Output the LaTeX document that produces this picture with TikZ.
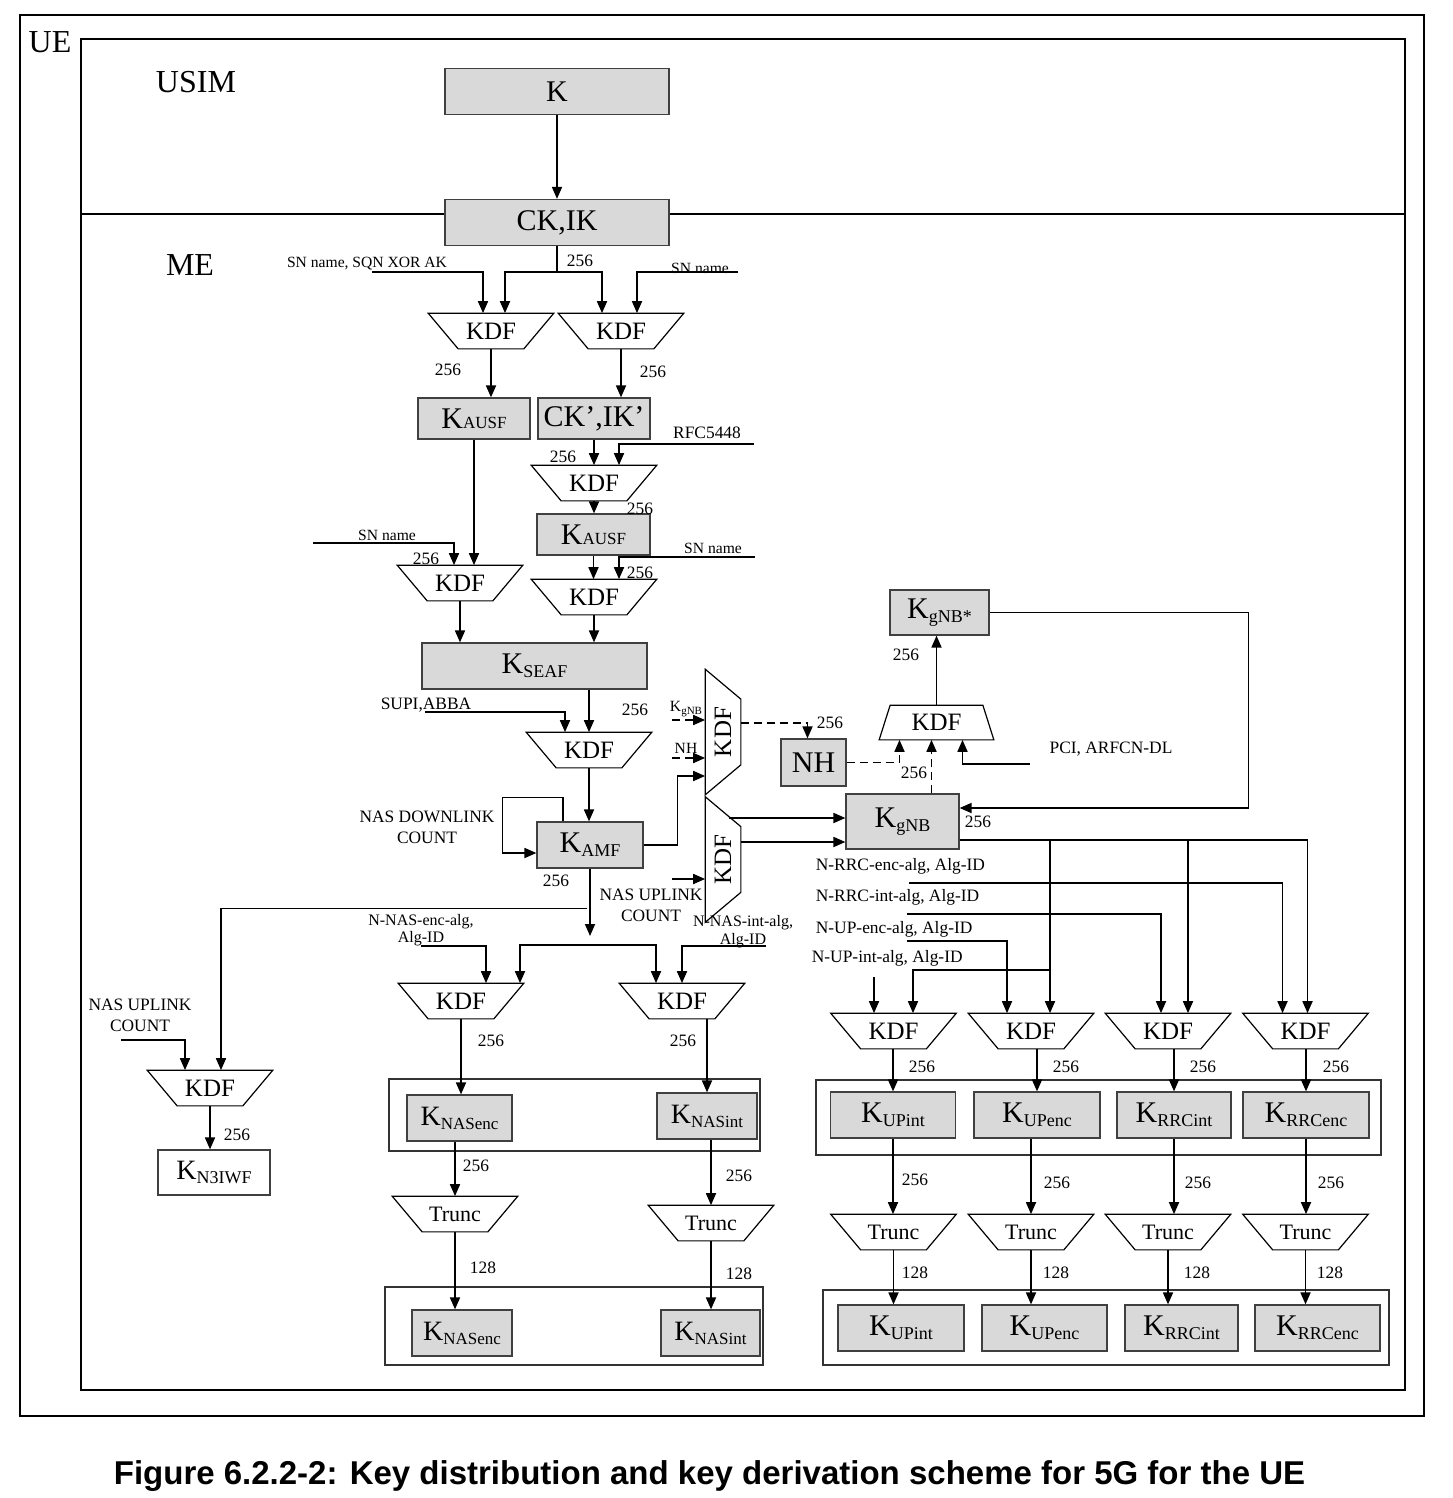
\documentclass[tikz,border=0pt]{standalone}
\usepackage{fontspec}
\setmainfont{Liberation Serif}
\newfontfamily\capfont{Liberation Sans}
\usetikzlibrary{arrows.meta,calc}
\definecolor{keygray}{HTML}{D9D9D9}
\newcommand{\keyname}[2][9]{K\raisebox{-2pt}{\fontsize{#1}{#1}\selectfont #2}}
\newcommand{\ausf}{K{\fontsize{8.5}{9}\selectfont AUSF}}

\begin{document}
\begin{tikzpicture}[x=0.5pt,y=-0.5pt,line width=0.85pt,
  arr/.style={-{Triangle[length=6pt,width=5pt]}},
  dsh/.style={dash pattern=on 4pt off 2.5pt},
  keybox/.style={draw=black!75,fill=keygray,inner sep=0pt,minimum height=23pt,line width=0.6pt,font=\fontsize{15}{17}\selectfont},
  wbox/.style={keybox,fill=white},
  kdf/.style={inner sep=0pt,minimum width=62pt,minimum height=17pt,font=\fontsize{12.5}{14}\selectfont,
    append after command={\pgfextra{\draw[line width=0.6pt] (\tikzlastnode.north west) -- (\tikzlastnode.north east) -- ([xshift=-15pt]\tikzlastnode.south east) -- ([xshift=15pt]\tikzlastnode.south west) -- cycle;}}},
  trunc/.style={kdf,font=\fontsize{11}{12}\selectfont},
  vkdf/.style={inner sep=0pt,minimum width=17pt,minimum height=62pt,font=\fontsize{12.5}{14}\selectfont,
    append after command={\pgfextra{\draw[line width=0.6pt] (\tikzlastnode.north west) -- ([yshift=-15pt]\tikzlastnode.north east) -- ([yshift=15pt]\tikzlastnode.south east) -- (\tikzlastnode.south west) -- cycle;}}},
  ukdf/.style={inner sep=0pt,minimum width=56.5pt,minimum height=16.5pt,font=\fontsize{12.5}{14}\selectfont,
    append after command={\pgfextra{\draw[line width=0.6pt] ([xshift=5.5pt]\tikzlastnode.north west) -- ([xshift=-5.5pt]\tikzlastnode.north east) -- (\tikzlastnode.south east) -- (\tikzlastnode.south west) -- cycle;}}},
  lbl/.style={inner sep=0pt,font=\fontsize{8.7}{10.5}\selectfont},
  sml/.style={inner sep=0pt,font=\fontsize{7.8}{9}\selectfont},
  big/.style={inner sep=0pt,font=\fontsize{16}{18}\selectfont},
  grp/.style={line width=0.55pt,draw=black!80}]
\useasboundingbox (0,0) rectangle (1452,1498);

\draw[line width=1pt] (20,15) rectangle (1424,1416);
\draw[line width=1.4pt] (81,39) rectangle (1405,1390);
\draw (81,214) -- (1405,214);
\node[big] (ue) at (50,42) {UE};
\node[big] (usim) at (196,82) {USIM};
\node[big] (me) at (190,265) {ME};

\node[keybox,minimum width=112pt] (k) at (557,91.5) {K};
\node[keybox,minimum width=112pt] (ckik) at (557,222.5) {CK,IK};
\node[kdf] (kdfA) at (491,331) {KDF};
\node[kdf] (kdfB) at (621,331) {KDF};
\node[keybox,minimum width=56pt,minimum height=20.5pt] (kausfA) at (474,418.5) {\ausf};
\node[keybox,minimum width=56pt,minimum height=20.5pt] (ckikp) at (594,418.5) {CK',IK'};
\node[kdf] (kdfC) at (594,483) {KDF};
\node[keybox,minimum width=56.5pt,minimum height=20.5pt] (kausfB) at (593.5,534.5) {\ausf};
\node[kdf] (kdfD) at (594,597) {KDF};
\node[kdf] (kdfE) at (460,583) {KDF};
\node[keybox,minimum width=112.5pt] (kseaf) at (534.5,666) {\keyname{SEAF}};
\node[kdf] (kdfF) at (589,750) {KDF};
\node[keybox,minimum width=53pt] (kamf) at (590,845) {\keyname{AMF}};
\node[vkdf] (vkdfA) at (723,732) {\rotatebox{90}{KDF}};
\node[vkdf] (vkdfB) at (723,859.5) {\rotatebox{90}{KDF}};
\node[keybox,minimum width=32.5pt,minimum height=23.5pt] (nh) at (813.5,762.5) {NH};
\node[keybox,minimum width=56.5pt,minimum height=27.5pt] (kgnb) at (902.5,821.5) {\keyname{gNB}};
\node[keybox,minimum width=49.5pt,minimum height=22.5pt] (kgnbs) at (939.5,612.5) {\keyname{gNB*}};
\node[ukdf] (ukdf) at (936.5,722.5) {KDF};

\draw[arr] (k) -- (ckik);
\coordinate (ckikS) at (557,272);
\draw (ckik.south) -- (ckikS);
\draw[arr] (ckikS) -| ($(kdfA.north)+(14,0)$);
\draw[arr] (ckikS) -| ($(kdfB.north)+(-19,0)$);
\node[lbl] (n256a) at (580,261) {256};
\node[sml] (snsqn) at (367,264) {SN name, SQN XOR AK};
\coordinate (snsqnE) at (372,272);
\draw[arr] (snsqnE) -| ($(kdfA.north)+(-8,0)$);
\node[sml] (snB) at (700,268) {SN name};
\coordinate (snBE) at (738,272);
\draw[arr] (snBE) -| ($(kdfB.north)+(16,0)$);
\draw[arr] (kdfA.south) -- (kdfA.south |- kausfA.north);
\node[lbl] (n256b) at (448,370) {256};
\draw[arr] (kdfB.south) -- (kdfB.south |- ckikp.north);
\node[lbl] (n256c) at (653,372) {256};
\node[lbl] (rfc) at (707,433) {RFC5448};
\coordinate (rfcE) at (754,444);
\draw[arr] (rfcE) -| ($(kdfC.north)+(25,0)$);
\draw[arr] (ckikp) -- (kdfC);
\node[lbl] (n256d) at (563,457) {256};
\draw[arr] (kdfC.south) -- (kdfC.south |- kausfB.north);
\node[lbl] (n256e) at (640,509) {256};
\node[sml] (snC) at (713,548) {SN name};
\coordinate (snCE) at (755,557);
\draw[arr] (snCE) -| ($(kdfD.north)+(25,0)$);
\draw[arr] (kausfB.south) -- (kausfB.south |- kdfD.north);
\node[lbl] (n256f) at (640,573) {256};
\draw[arr] (kausfA.south) -- (kausfA.south |- kdfE.north);
\node[sml] (snD) at (387,535) {SN name};
\coordinate (snDE) at (313,543);
\draw[arr] (snDE) -| ($(kdfE.north)+(-6,0)$);
\node[lbl] (n256g) at (426,559) {256};
\draw[arr] (kdfE.south) -- (kdfE.south |- kseaf.north);
\draw[arr] (kdfD.south) -- (kdfD.south |- kseaf.north);
\node[lbl] (supi) at (426,705) {SUPI,ABBA};
\coordinate (supiE) at (425,712);
\draw[arr] (supiE) -| ($(kdfF.north)+(-24,0)$);
\draw[arr] (kseaf.south -| kdfF.north) -- (kdfF.north);
\node[lbl] (n256h) at (635,710) {256};
\draw[arr] (kdfF.south) -- (kdfF.south |- kamf.north);
\draw[arr] ($(kamf.north)+(-27,0)$) -- ++(0,-24) -| ($(kamf.west)+(-34,8)$) -- ($(kamf.west)+(0,8)$);
\node[lbl,align=center] (nasdl) at (427,827) {NAS DOWNLINK\\COUNT};
\draw[arr] (kamf.east) -- ++(34,0) |- ($(vkdfA.west)+(0,44)$);
\node[sml] (kgnbin) at (686,709) {K\raisebox{-1.5pt}{\fontsize{5.5}{6}\selectfont gNB}};
\coordinate (kgnbinE) at (672,720);
\draw[arr,dsh] (kgnbinE) -- ($(vkdfA.west)+(0,-12)$);
\node[sml] (nhin) at (686,748) {NH};
\coordinate (nhinE) at (672,758);
\draw[arr,dsh] (nhinE) -- ($(vkdfA.west)+(0,26)$);
\draw[arr,dsh] ($(vkdfA.east)+(0,-9)$) -| ($(nh.north)+(-6,0)$);
\node[lbl] (n256i) at (830,723) {256};
\coordinate (nasulE) at (672,879);
\draw[arr] (nasulE) -- ($(vkdfB.west)+(0,19.5)$);
\node[lbl,align=center] (nasul) at (651,905.5) {NAS UPLINK\\COUNT};
\draw[arr] ($(vkdfB.east)+(-12,-41.5)$) -- ($(kgnb.west)+(0,-3.5)$);
\draw[arr] ($(vkdfB.east)+(0,-17.5)$) -- ($(kgnb.west)+(0,20.5)$);
\draw[arr,dsh] (nh.east) -| ($(ukdf.south)+(-37,0)$);
\draw[arr,dsh] ($(kgnb.north)+(29,0)$) -- ($(ukdf.south)+(-5,0)$);
\node[lbl] (n256j) at (914,773) {256};
\coordinate (pciE) at (1030,764);
\draw[arr] (pciE) -| ($(ukdf.south)+(26,0)$);
\node[lbl] (pci) at (1111,749) {PCI, ARFCN-DL};
\draw[arr] (ukdf.north) -- (ukdf.north |- kgnbs.south);
\node[lbl] (n256k) at (906,655) {256};
\draw[arr] (kgnbs.east) -| ($(kgnb.east)+(289,-13.5)$) -- ($(kgnb.east)+(0,-13.5)$);
\node[lbl] (n256l) at (978,822) {256};

\node[kdf] (kdfUPi) at (893.5,1031) {KDF};
\node[kdf] (kdfUPe) at (1031,1031) {KDF};
\node[kdf] (kdfRRCi) at (1168,1031) {KDF};
\node[kdf] (kdfRRCe) at (1305.5,1031) {KDF};
\draw[grp] (816,1080) rectangle (1381,1155);
\node[keybox,minimum width=62.5pt] (upintA) at (893,1115) {\keyname{UPint}};
\node[keybox,minimum width=63pt] (upencA) at (1037,1115) {\keyname{UPenc}};
\node[keybox,minimum width=57pt] (rrcintA) at (1174,1115) {\keyname{RRCint}};
\node[keybox,minimum width=63pt] (rrcencA) at (1306,1115) {\keyname{RRCenc}};
\node[trunc] (trUPi) at (893.5,1232) {Trunc};
\node[trunc] (trUPe) at (1031,1232) {Trunc};
\node[trunc] (trRRCi) at (1168,1232) {Trunc};
\node[trunc] (trRRCe) at (1305.5,1232) {Trunc};
\draw[grp] (823,1290) rectangle (1389,1365);
\node[keybox,minimum width=63pt] (upintB) at (901,1328) {\keyname{UPint}};
\node[keybox,minimum width=62.5pt] (upencB) at (1044.5,1328) {\keyname{UPenc}};
\node[keybox,minimum width=56.5pt] (rrcintB) at (1181.5,1328) {\keyname{RRCint}};
\node[keybox,minimum width=62.5pt] (rrcencB) at (1317.5,1328) {\keyname{RRCenc}};

\coordinate (kgnbO) at ($(kgnb.east)+(0,18.5)$);
\draw[arr] (kgnbO) -| ($(kdfRRCe.north)+(2,0)$);
\draw[arr] (kgnbO) -| ($(kdfRRCi.north)+(20,0)$);
\draw[arr] (kgnbO) -| ($(kdfUPe.north)+(19,0)$);
\draw[arr] ($(kdfUPe.north)+(19,-43)$) -| ($(kdfUPi.north)+(19.5,0)$);
\node[lbl,anchor=west] (rrcenc) at (815,866) {N-RRC-enc-alg, Alg-ID};
\coordinate (rrcencE) at (909,883);
\draw[arr] (rrcencE) -| ($(kdfRRCe.north)+(-23,0)$);
\node[lbl,anchor=west] (rrcint) at (815,897) {N-RRC-int-alg, Alg-ID};
\coordinate (rrcintE) at (907,914);
\draw[arr] (rrcintE) -| ($(kdfRRCi.north)+(-7,0)$);
\node[lbl,anchor=west] (upenc) at (815,929) {N-UP-enc-alg, Alg-ID};
\coordinate (upencE) at (907,941);
\draw[arr] (upencE) -| ($(kdfUPe.north)+(-24,0)$);
\node[lbl,anchor=west] (upint) at (811,958) {N-UP-int-alg, Alg-ID};
\coordinate (upintE) at (874,977);
\draw[arr] (upintE) -- (upintE |- kdfUPi.north);

\draw[arr] (kdfUPi.south -| upintA.north) -- (upintA.north);
\draw[arr] (kdfUPe.south -| upencA.north) -- (upencA.north);
\draw[arr] (kdfRRCi.south -| rrcintA.north) -- (rrcintA.north);
\draw[arr] (kdfRRCe.south -| rrcencA.north) -- (rrcencA.north);
\node[lbl] (n256m) at (922,1067) {256};
\node[lbl] (n256n) at (1066,1067) {256};
\node[lbl] (n256o) at (1203,1067) {256};
\node[lbl] (n256p) at (1336,1067) {256};
\draw[arr] (upintA.south) -- (upintA.south |- trUPi.north);
\draw[arr] (upencA.south -| trUPe.north) -- (trUPe.north);
\draw[arr] (rrcintA.south) -- (rrcintA.south |- trRRCi.north);
\draw[arr] (rrcencA.south) -- (rrcencA.south |- trRRCe.north);
\node[lbl] (n256q) at (915,1180) {256};
\node[lbl] (n256r) at (1057,1183) {256};
\node[lbl] (n256s) at (1198,1183) {256};
\node[lbl] (n256t) at (1331,1183) {256};
\draw[arr] (trUPi.south) -- (trUPi.south |- upintB.north);
\draw[arr] (trUPe.south) -- (trUPe.south |- upencB.north);
\draw[arr] (trRRCi.south) -- (trRRCi.south |- rrcintB.north);
\draw[arr] (trRRCe.south) -- (trRRCe.south |- rrcencB.north);
\node[lbl] (n128a) at (915,1273) {128};
\node[lbl] (n128b) at (1056,1273) {128};
\node[lbl] (n128c) at (1197,1273) {128};
\node[lbl] (n128d) at (1330,1273) {128};

\node[kdf] (kdfNe) at (461,1001) {KDF};
\node[kdf] (kdfNi) at (682,1001) {KDF};
\draw[grp] (389,1079) rectangle (760,1151);
\node[keybox,minimum width=52.5pt,font=\fontsize{14}{16}\selectfont] (nasencA) at (459.5,1118) {\keyname[8.5]{NASenc}};
\node[keybox,minimum width=50pt,font=\fontsize{14}{16}\selectfont] (nasintA) at (707,1116) {\keyname[8.5]{NASint}};
\node[trunc] (trNe) at (455,1214) {Trunc};
\node[trunc] (trNi) at (711,1223) {Trunc};
\draw[grp] (385,1287) rectangle (763,1365);
\node[keybox,minimum width=50pt,font=\fontsize{14}{16}\selectfont] (nasencB) at (462,1333) {\keyname[8.5]{NASenc}};
\node[keybox,minimum width=49.5pt,font=\fontsize{14}{16}\selectfont] (nasintB) at (710.5,1333) {\keyname[8.5]{NASint}};
\node[kdf] (kdfN3) at (210,1088) {KDF};
\node[wbox,minimum width=56pt,minimum height=22.5pt,font=\fontsize{14}{16}\selectfont] (n3iwf) at (214,1172.5) {\keyname{N3IWF}};

\coordinate (nassplit) at (590,945);
\draw[arr] (kamf.south) -- ($(nassplit)+(0,-9)$);
\node[lbl] (n256u) at (556,881) {256};
\draw[arr] (nassplit) -| ($(kdfNe.north)+(59,0)$);
\draw[arr] (nassplit) -| ($(kdfNi.north)+(-26,0)$);
\draw[arr] ($(kamf.south)+(-3,40)$) -| ($(kdfN3.north)+(11,0)$);
\node[inner sep=0pt,align=center,font=\fontsize{8}{8.5}\selectfont] (nasenc) at (421,930) {N-NAS-enc-alg,\\Alg-ID};
\coordinate (nasencE) at (421,946);
\draw[arr] (nasencE) -| ($(kdfNe.north)+(25,0)$);
\node[inner sep=0pt,align=center,font=\fontsize{8}{9}\selectfont] (nasint) at (743,932) {N-NAS-int-alg,\\Alg-ID};
\coordinate (nasintE) at (766,946);
\draw[arr] (nasintE) -| (kdfNi.north);
\draw[arr] (kdfNe.south) -- (kdfNe.south |- nasencA.north);
\node[lbl] (n256v) at (491,1041) {256};
\draw[arr] (nasintA.north |- kdfNi.south) -- (nasintA.north);
\node[lbl] (n256w) at (683,1041) {256};
\draw[arr] (nasencA.south -| trNe.north) -- (trNe.north);
\node[lbl] (n256x) at (476,1166) {256};
\draw[arr] (nasintA.south -| trNi.north) -- (trNi.north);
\node[lbl] (n256y) at (739,1176) {256};
\draw[arr] (trNe.south) -- (trNe.south |- nasencB.north);
\node[lbl] (n128e) at (483,1268) {128};
\draw[arr] (trNi.south) -- (trNi.south |- nasintB.north);
\node[lbl] (n128f) at (739,1274) {128};
\node[lbl,align=center] (nasul2) at (140,1015.5) {NAS UPLINK\\COUNT};
\coordinate (nasul2E) at (121,1040);
\draw[arr] (nasul2E) -| ($(kdfN3.north)+(-25,0)$);
\draw[arr] (kdfN3.south) -- (kdfN3.south |- n3iwf.north);
\node[lbl] (n256z) at (237,1135) {256};

\node[inner sep=0pt,font=\capfont\bfseries\fontsize{16.5}{18}\selectfont] (caption) at (709.5,1476) {Figure 6.2.2-2: Key distribution and key derivation scheme for 5G for the UE};
\end{tikzpicture}
\end{document}
